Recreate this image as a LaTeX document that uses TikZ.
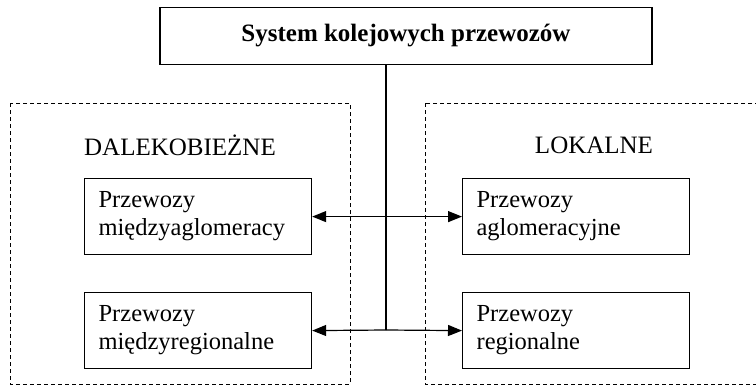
\documentclass[tikz,border=0pt]{standalone}
\usepackage{fontspec}
\setmainfont{Liberation Serif}
\usetikzlibrary{arrows.meta, positioning}

\begin{document}
\begin{tikzpicture}[
    x=1pt, y=-1pt,
    every node/.style={font=\fontsize{24.5}{28}\selectfont},
    titlebox/.style={rectangle, draw, line width=1.2pt, minimum width=492pt, minimum height=57pt, font=\fontsize{25}{28}\selectfont\bfseries},
    itembox/.style={rectangle, draw, line width=1.2pt, anchor=north west, minimum width=227pt, minimum height=76pt, text width=199pt, inner xsep=14pt, align=left},
    groupbox/.style={draw, dashed, line width=0.9pt, dash pattern=on 4pt off 3pt},
    grouplabel/.style={font=\fontsize{25}{28}\selectfont},
    arr/.style={-{Triangle[length=14pt, width=11pt]}, line width=1.2pt},
    spine/.style={line width=1.2pt}
]
\useasboundingbox (0,0) rectangle (756,386);
\clip (0,0) rectangle (756,386);

% Top
\node[titlebox] (sys) at (406,36) {System kolejowych przewozów};

% Groups
\draw[groupbox] (10,103) rectangle (350,384);
\draw[groupbox] (425,103) rectangle (780,384);
\node[grouplabel] (dal) at (180,145) {DALEKOBIEŻNE};
\node[grouplabel] (lok) at (594,145) {LOKALNE};

% Left items
\node[itembox] (mag) at (84,178) {Przewozy\\międzyaglomeracy};
\node[itembox] (mreg) at (84,292) {Przewozy\\międzyregionalne};

% Right items
\node[itembox] (agl) at (462,178) {Przewozy\\aglomeracyjne};
\node[itembox] (reg) at (462,292) {Przewozy\\regionalne};

% Connectors
\coordinate (sp) at (sys.south -| 386,0);
\coordinate (hub) at (386,330);
\draw[spine] (sp) -- (hub);
\draw[arr, {Triangle[length=14pt, width=11pt]}-{Triangle[length=14pt, width=11pt]}] (mag.east) -- (agl.west);
\draw[arr] (hub) -- (mreg.east);
\draw[arr] (hub) -- (reg.west);
\end{tikzpicture}
\end{document}
